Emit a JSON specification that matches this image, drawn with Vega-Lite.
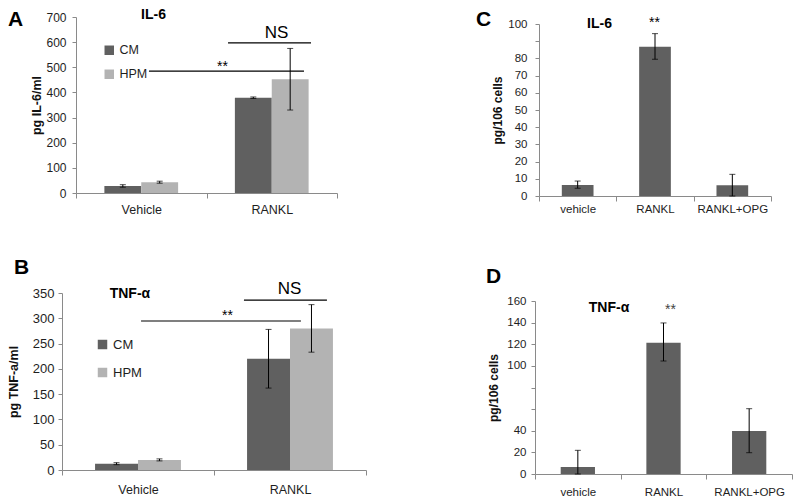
{
  "$schema": "https://vega.github.io/schema/vega-lite/v6.json",
  "background": "white",
  "padding": {"left": 7, "top": 8, "right": 0, "bottom": 0},
  "config": {
    "font": "Liberation Sans",
    "view": {"stroke": null},
    "axis": {"grid": false, "domainColor": "#8a8a8a", "tickColor": "#8a8a8a", "labelColor": "#1e1e1e", "labelFont": "Liberation Sans", "titleFont": "Liberation Sans", "titleFontWeight": "bold", "titleColor": "#111111", "titleFontSize": 12.5, "labelFontSize": 12, "labelOverlap": false},
    "legend": {"labelFont": "Liberation Sans", "labelColor": "#1e1e1e"},
    "text": {"font": "Liberation Sans", "color": "#111111"}
  },
  "datasets": {
    "il6_conditioned": [
      {"treatment": "Vehicle", "medium": "CM", "mean": 28, "low": 23, "high": 33},
      {"treatment": "Vehicle", "medium": "HPM", "mean": 43, "low": 39, "high": 47},
      {"treatment": "RANKL", "medium": "CM", "mean": 379, "low": 376, "high": 382},
      {"treatment": "RANKL", "medium": "HPM", "mean": 452, "low": 330, "high": 575}
    ],
    "tnf_conditioned": [
      {"treatment": "Vehicle", "medium": "CM", "mean": 12.5, "low": 10.5, "high": 14.5},
      {"treatment": "Vehicle", "medium": "HPM", "mean": 20, "low": 18, "high": 22},
      {"treatment": "RANKL", "medium": "CM", "mean": 220, "low": 162, "high": 278},
      {"treatment": "RANKL", "medium": "HPM", "mean": 280, "low": 233, "high": 327}
    ],
    "il6_cells": [
      {"treatment": "vehicle", "mean": 6.4, "low": 4.5, "high": 8.7},
      {"treatment": "RANKL", "mean": 86.8, "low": 79.5, "high": 94.4},
      {"treatment": "RANKL+OPG", "mean": 6.2, "low": 0, "high": 12.6}
    ],
    "tnf_cells": [
      {"treatment": "vehicle", "mean": 6.5, "low": 0, "high": 21.9},
      {"treatment": "RANKL", "mean": 121.5, "low": 104.5, "high": 139.7},
      {"treatment": "RANKL+OPG", "mean": 39.8, "low": 19.7, "high": 60.4}
    ]
  },
  "columns": 2,
  "bounds": "flush",
  "align": "each",
  "spacing": {"row": 97, "column": 169},
  "resolve": {
    "scale": {"x": "independent", "y": "independent", "xOffset": "independent", "color": "independent"},
    "axis": {"x": "independent", "y": "independent"},
    "legend": {"color": "independent"}
  },
  "concat": [
    {
      "width": 275, "height": 176,
      "resolve": {"scale": {"x": "independent", "xOffset": "independent"}},
      "layer": [
        {
          "data": {"name": "il6_conditioned"},
          "encoding": {
            "x": {"field": "treatment", "type": "nominal", "sort": ["Vehicle", "RANKL"],
                  "scale": {"domain": ["Vehicle", "RANKL"], "range": [14, 275], "paddingInner": 0, "paddingOuter": 0},
                  "axis": {"title": null, "labelAngle": 0, "tickBand": "extent", "tickSize": 5, "labelPadding": 5, "labelFontSize": 12.5}},
            "xOffset": {"field": "medium", "type": "nominal", "scale": {"domain": ["CM", "HPM"], "paddingInner": 0, "paddingOuter": 0.77}}
          },
          "layer": [
            {
              "mark": {"type": "bar"},
              "encoding": {
                "y": {"field": "mean", "type": "quantitative", "scale": {"domain": [0, 700], "nice": false},
                      "axis": {"title": "pg IL-6/ml", "values": [0, 100, 200, 300, 400, 500, 600, 700], "offset": -14, "tickSize": 4, "labelPadding": 6, "titleX": -39.5, "titleBaseline": "middle"}},
                "color": {"field": "medium", "type": "nominal", "scale": {"domain": ["CM", "HPM"], "range": ["#606060", "#b3b3b3"]},
                          "legend": {"orient": "none", "legendX": 41, "legendY": 27, "title": null, "symbolType": "square", "symbolSize": 90, "symbolStrokeWidth": 0, "symbolOpacity": 1, "labelFontSize": 12.5, "labelOffset": 4, "rowPadding": 11, "padding": 0}}
              }
            },
            {
              "mark": {"type": "rule", "color": "#000000", "strokeWidth": 1},
              "encoding": {
                "y": {"field": "low", "type": "quantitative", "scale": {"domain": [0, 700], "nice": false},
                      "axis": {"title": "pg IL-6/ml", "values": [0, 100, 200, 300, 400, 500, 600, 700], "offset": -14, "tickSize": 4, "labelPadding": 6, "titleX": -39.5, "titleBaseline": "middle"}},
                "y2": {"field": "high"}
              }
            },
            {
              "mark": {"type": "tick", "color": "#000000", "size": 6, "thickness": 1},
              "encoding": {"y": {"field": "high", "type": "quantitative", "scale": {"domain": [0, 700], "nice": false},
                      "axis": {"title": "pg IL-6/ml", "values": [0, 100, 200, 300, 400, 500, 600, 700], "offset": -14, "tickSize": 4, "labelPadding": 6, "titleX": -39.5, "titleBaseline": "middle"}}}
            },
            {
              "mark": {"type": "tick", "color": "#000000", "size": 6, "thickness": 1},
              "encoding": {"y": {"field": "low", "type": "quantitative", "scale": {"domain": [0, 700], "nice": false},
                      "axis": {"title": "pg IL-6/ml", "values": [0, 100, 200, 300, 400, 500, 600, 700], "offset": -14, "tickSize": 4, "labelPadding": 6, "titleX": -39.5, "titleBaseline": "middle"}}}
            }
          ]
        },
        {
          "data": {"values": [{"from": 1.165, "to": 1.801, "level": 597}, {"from": 0.559, "to": 1.747, "level": 485}]},
          "mark": {"type": "rule", "color": "#000000", "strokeWidth": 1.2},
          "encoding": {
            "x": {"field": "from", "type": "quantitative", "scale": {"domain": [0, 2], "range": [14, 275], "nice": false, "zero": false}, "axis": null},
            "x2": {"field": "to"},
            "y": {"field": "level", "type": "quantitative", "scale": {"domain": [0, 700], "nice": false},
                  "axis": {"title": "pg IL-6/ml", "values": [0, 100, 200, 300, 400, 500, 600, 700], "offset": -14, "tickSize": 4, "labelPadding": 6, "titleX": -39.5, "titleBaseline": "middle"}}
          }
        },
        {
          "data": {"values": [{"label": "A", "pos": -0.521, "level": 664}]},
          "mark": {"type": "text", "align": "left", "baseline": "alphabetic", "fontSize": 21, "fontWeight": "bold", "color": "#000000"},
          "encoding": {
            "x": {"field": "pos", "type": "quantitative", "scale": {"domain": [0, 2], "range": [14, 275], "nice": false, "zero": false}, "axis": null},
            "y": {"field": "level", "type": "quantitative", "scale": {"domain": [0, 700], "nice": false},
                  "axis": {"title": "pg IL-6/ml", "values": [0, 100, 200, 300, 400, 500, 600, 700], "offset": -14, "tickSize": 4, "labelPadding": 6, "titleX": -39.5, "titleBaseline": "middle"}},
            "text": {"field": "label"}
          }
        },
        {
          "data": {"values": [{"label": "IL-6", "pos": 0.594, "level": 692}]},
          "mark": {"type": "text", "align": "center", "baseline": "alphabetic", "fontSize": 14, "fontWeight": "bold", "color": "#000000"},
          "encoding": {
            "x": {"field": "pos", "type": "quantitative", "scale": {"domain": [0, 2], "range": [14, 275], "nice": false, "zero": false}, "axis": null},
            "y": {"field": "level", "type": "quantitative", "scale": {"domain": [0, 700], "nice": false},
                  "axis": {"title": "pg IL-6/ml", "values": [0, 100, 200, 300, 400, 500, 600, 700], "offset": -14, "tickSize": 4, "labelPadding": 6, "titleX": -39.5, "titleBaseline": "middle"}},
            "text": {"field": "label"}
          }
        },
        {
          "data": {"values": [{"label": "NS", "pos": 1.536, "level": 616}]},
          "mark": {"type": "text", "align": "center", "baseline": "alphabetic", "fontSize": 17, "color": "#000000"},
          "encoding": {
            "x": {"field": "pos", "type": "quantitative", "scale": {"domain": [0, 2], "range": [14, 275], "nice": false, "zero": false}, "axis": null},
            "y": {"field": "level", "type": "quantitative", "scale": {"domain": [0, 700], "nice": false},
                  "axis": {"title": "pg IL-6/ml", "values": [0, 100, 200, 300, 400, 500, 600, 700], "offset": -14, "tickSize": 4, "labelPadding": 6, "titleX": -39.5, "titleBaseline": "middle"}},
            "text": {"field": "label"}
          }
        },
        {
          "data": {"values": [{"label": "**", "pos": 1.123, "level": 487}]},
          "mark": {"type": "text", "align": "center", "baseline": "alphabetic", "fontSize": 14, "color": "#000000"},
          "encoding": {
            "x": {"field": "pos", "type": "quantitative", "scale": {"domain": [0, 2], "range": [14, 275], "nice": false, "zero": false}, "axis": null},
            "y": {"field": "level", "type": "quantitative", "scale": {"domain": [0, 700], "nice": false},
                  "axis": {"title": "pg IL-6/ml", "values": [0, 100, 200, 300, 400, 500, 600, 700], "offset": -14, "tickSize": 4, "labelPadding": 6, "titleX": -39.5, "titleBaseline": "middle"}},
            "text": {"field": "label"}
          }
        }
      ]
    },
    {
      "width": 236, "height": 179,
      "resolve": {"scale": {"x": "independent"}},
      "layer": [
        {
          "data": {"name": "il6_cells"},
          "encoding": {
            "x": {"field": "treatment", "type": "nominal", "sort": ["vehicle", "RANKL", "RANKL+OPG"],
                  "scale": {"domain": ["vehicle", "RANKL", "RANKL+OPG"], "range": [4, 236], "paddingInner": 0, "paddingOuter": 0},
                  "axis": {"title": null, "labelAngle": 0, "tickBand": "extent", "tickSize": 5, "labelPadding": 2, "labelFontSize": 11.5}}
          },
          "layer": [
            {
              "mark": {"type": "bar", "color": "#606060", "width": {"band": 0.41}},
              "encoding": {
                "y": {"field": "mean", "type": "quantitative", "scale": {"domain": [0, 100], "range": [179, 7], "nice": false},
                      "axis": {"title": "pg/106 cells", "values": [0, 10, 20, 30, 40, 50, 60, 70, 80, 90, 100], "labelExpr": "datum.value == 90 ? '' : datum.label", "offset": -4, "tickSize": 4, "labelPadding": 8, "labelFontSize": 11.5, "titleFontSize": 12, "titleX": -42, "titleBaseline": "middle"}}
              }
            },
            {
              "mark": {"type": "rule", "color": "#000000", "strokeWidth": 1},
              "encoding": {
                "y": {"field": "low", "type": "quantitative", "scale": {"domain": [0, 100], "range": [179, 7], "nice": false},
                      "axis": {"title": "pg/106 cells", "values": [0, 10, 20, 30, 40, 50, 60, 70, 80, 90, 100], "labelExpr": "datum.value == 90 ? '' : datum.label", "offset": -4, "tickSize": 4, "labelPadding": 8, "labelFontSize": 11.5, "titleFontSize": 12, "titleX": -42, "titleBaseline": "middle"}},
                "y2": {"field": "high"}
              }
            },
            {
              "mark": {"type": "tick", "color": "#000000", "size": 6, "thickness": 1},
              "encoding": {"y": {"field": "high", "type": "quantitative", "scale": {"domain": [0, 100], "range": [179, 7], "nice": false},
                      "axis": {"title": "pg/106 cells", "values": [0, 10, 20, 30, 40, 50, 60, 70, 80, 90, 100], "labelExpr": "datum.value == 90 ? '' : datum.label", "offset": -4, "tickSize": 4, "labelPadding": 8, "labelFontSize": 11.5, "titleFontSize": 12, "titleX": -42, "titleBaseline": "middle"}}}
            },
            {
              "mark": {"type": "tick", "color": "#000000", "size": 6, "thickness": 1},
              "encoding": {"y": {"field": "low", "type": "quantitative", "scale": {"domain": [0, 100], "range": [179, 7], "nice": false},
                      "axis": {"title": "pg/106 cells", "values": [0, 10, 20, 30, 40, 50, 60, 70, 80, 90, 100], "labelExpr": "datum.value == 90 ? '' : datum.label", "offset": -4, "tickSize": 4, "labelPadding": 8, "labelFontSize": 11.5, "titleFontSize": 12, "titleX": -42, "titleBaseline": "middle"}}}
            }
          ]
        },
        {
          "data": {"values": [{"label": "C", "pos": -0.815, "level": 98.8}]},
          "mark": {"type": "text", "align": "left", "baseline": "alphabetic", "fontSize": 21, "fontWeight": "bold", "color": "#000000"},
          "encoding": {
            "x": {"field": "pos", "type": "quantitative", "scale": {"domain": [0, 3], "range": [4, 236], "nice": false, "zero": false}, "axis": null},
            "y": {"field": "level", "type": "quantitative", "scale": {"domain": [0, 100], "range": [179, 7], "nice": false},
                  "axis": {"title": "pg/106 cells", "values": [0, 10, 20, 30, 40, 50, 60, 70, 80, 90, 100], "labelExpr": "datum.value == 90 ? '' : datum.label", "offset": -4, "tickSize": 4, "labelPadding": 8, "labelFontSize": 11.5, "titleFontSize": 12, "titleX": -42, "titleBaseline": "middle"}},
            "text": {"field": "label"}
          }
        },
        {
          "data": {"values": [{"label": "IL-6", "pos": 0.782, "level": 97.7}]},
          "mark": {"type": "text", "align": "center", "baseline": "alphabetic", "fontSize": 14, "fontWeight": "bold", "color": "#000000"},
          "encoding": {
            "x": {"field": "pos", "type": "quantitative", "scale": {"domain": [0, 3], "range": [4, 236], "nice": false, "zero": false}, "axis": null},
            "y": {"field": "level", "type": "quantitative", "scale": {"domain": [0, 100], "range": [179, 7], "nice": false},
                  "axis": {"title": "pg/106 cells", "values": [0, 10, 20, 30, 40, 50, 60, 70, 80, 90, 100], "labelExpr": "datum.value == 90 ? '' : datum.label", "offset": -4, "tickSize": 4, "labelPadding": 8, "labelFontSize": 11.5, "titleFontSize": 12, "titleX": -42, "titleBaseline": "middle"}},
            "text": {"field": "label"}
          }
        },
        {
          "data": {"values": [{"label": "**", "pos": 1.494, "level": 98.5}]},
          "mark": {"type": "text", "align": "center", "baseline": "alphabetic", "fontSize": 14, "color": "#000000"},
          "encoding": {
            "x": {"field": "pos", "type": "quantitative", "scale": {"domain": [0, 3], "range": [4, 236], "nice": false, "zero": false}, "axis": null},
            "y": {"field": "level", "type": "quantitative", "scale": {"domain": [0, 100], "range": [179, 7], "nice": false},
                  "axis": {"title": "pg/106 cells", "values": [0, 10, 20, 30, 40, 50, 60, 70, 80, 90, 100], "labelExpr": "datum.value == 90 ? '' : datum.label", "offset": -4, "tickSize": 4, "labelPadding": 8, "labelFontSize": 11.5, "titleFontSize": 12, "titleX": -42, "titleBaseline": "middle"}},
            "text": {"field": "label"}
          }
        }
      ]
    },
    {
      "width": 304, "height": 177,
      "resolve": {"scale": {"x": "independent", "xOffset": "independent"}},
      "layer": [
        {
          "data": {"name": "tnf_conditioned"},
          "encoding": {
            "x": {"field": "treatment", "type": "nominal", "sort": ["Vehicle", "RANKL"],
                  "scale": {"domain": ["Vehicle", "RANKL"], "paddingInner": 0, "paddingOuter": 0},
                  "axis": {"title": null, "labelAngle": 0, "tickBand": "extent", "tickSize": 5, "labelPadding": 8, "labelFontSize": 12.5}},
            "xOffset": {"field": "medium", "type": "nominal", "scale": {"domain": ["CM", "HPM"], "paddingInner": 0, "paddingOuter": 0.77}}
          },
          "layer": [
            {
              "mark": {"type": "bar"},
              "encoding": {
                "y": {"field": "mean", "type": "quantitative", "scale": {"domain": [0, 350], "nice": false},
                      "axis": {"title": "pg TNF-a/ml", "values": [0, 50, 100, 150, 200, 250, 300, 350], "tickSize": 4, "labelPadding": 4, "labelFontSize": 13, "titleX": -49, "titleBaseline": "middle"}},
                "color": {"field": "medium", "type": "nominal", "scale": {"domain": ["CM", "HPM"], "range": ["#606060", "#b3b3b3"]},
                          "legend": {"orient": "none", "legendX": 34, "legendY": 45, "title": null, "symbolType": "square", "symbolSize": 90, "symbolStrokeWidth": 0, "symbolOpacity": 1, "labelFontSize": 13, "labelOffset": 4, "rowPadding": 14, "padding": 0}}
              }
            },
            {
              "mark": {"type": "rule", "color": "#000000", "strokeWidth": 1},
              "encoding": {
                "y": {"field": "low", "type": "quantitative", "scale": {"domain": [0, 350], "nice": false},
                      "axis": {"title": "pg TNF-a/ml", "values": [0, 50, 100, 150, 200, 250, 300, 350], "tickSize": 4, "labelPadding": 4, "labelFontSize": 13, "titleX": -49, "titleBaseline": "middle"}},
                "y2": {"field": "high"}
              }
            },
            {
              "mark": {"type": "tick", "color": "#000000", "size": 6, "thickness": 1},
              "encoding": {"y": {"field": "high", "type": "quantitative", "scale": {"domain": [0, 350], "nice": false},
                      "axis": {"title": "pg TNF-a/ml", "values": [0, 50, 100, 150, 200, 250, 300, 350], "tickSize": 4, "labelPadding": 4, "labelFontSize": 13, "titleX": -49, "titleBaseline": "middle"}}}
            },
            {
              "mark": {"type": "tick", "color": "#000000", "size": 6, "thickness": 1},
              "encoding": {"y": {"field": "low", "type": "quantitative", "scale": {"domain": [0, 350], "nice": false},
                      "axis": {"title": "pg TNF-a/ml", "values": [0, 50, 100, 150, 200, 250, 300, 350], "tickSize": 4, "labelPadding": 4, "labelFontSize": 13, "titleX": -49, "titleBaseline": "middle"}}}
            }
          ]
        },
        {
          "data": {"values": [{"from": 1.197, "to": 1.743, "level": 336}, {"from": 0.52, "to": 1.572, "level": 294.6}]},
          "mark": {"type": "rule", "color": "#000000", "strokeWidth": 1.2},
          "encoding": {
            "x": {"field": "from", "type": "quantitative", "scale": {"domain": [0, 2], "nice": false, "zero": false}, "axis": null},
            "x2": {"field": "to"},
            "y": {"field": "level", "type": "quantitative", "scale": {"domain": [0, 350], "nice": false},
                  "axis": {"title": "pg TNF-a/ml", "values": [0, 50, 100, 150, 200, 250, 300, 350], "tickSize": 4, "labelPadding": 4, "labelFontSize": 13, "titleX": -49, "titleBaseline": "middle"}}
          }
        },
        {
          "data": {"values": [{"label": "B", "pos": -0.316, "level": 387.6}]},
          "mark": {"type": "text", "align": "left", "baseline": "alphabetic", "fontSize": 21, "fontWeight": "bold", "color": "#000000"},
          "encoding": {
            "x": {"field": "pos", "type": "quantitative", "scale": {"domain": [0, 2], "nice": false, "zero": false}, "axis": null},
            "y": {"field": "level", "type": "quantitative", "scale": {"domain": [0, 350], "nice": false},
                  "axis": {"title": "pg TNF-a/ml", "values": [0, 50, 100, 150, 200, 250, 300, 350], "tickSize": 4, "labelPadding": 4, "labelFontSize": 13, "titleX": -49, "titleBaseline": "middle"}},
            "text": {"field": "label"}
          }
        },
        {
          "data": {"values": [{"label": "TNF-α", "pos": 0.447, "level": 340}]},
          "mark": {"type": "text", "align": "center", "baseline": "alphabetic", "fontSize": 14, "fontWeight": "bold", "color": "#000000"},
          "encoding": {
            "x": {"field": "pos", "type": "quantitative", "scale": {"domain": [0, 2], "nice": false, "zero": false}, "axis": null},
            "y": {"field": "level", "type": "quantitative", "scale": {"domain": [0, 350], "nice": false},
                  "axis": {"title": "pg TNF-a/ml", "values": [0, 50, 100, 150, 200, 250, 300, 350], "tickSize": 4, "labelPadding": 4, "labelFontSize": 13, "titleX": -49, "titleBaseline": "middle"}},
            "text": {"field": "label"}
          }
        },
        {
          "data": {"values": [{"label": "NS", "pos": 1.497, "level": 348}]},
          "mark": {"type": "text", "align": "center", "baseline": "alphabetic", "fontSize": 17, "color": "#000000"},
          "encoding": {
            "x": {"field": "pos", "type": "quantitative", "scale": {"domain": [0, 2], "nice": false, "zero": false}, "axis": null},
            "y": {"field": "level", "type": "quantitative", "scale": {"domain": [0, 350], "nice": false},
                  "axis": {"title": "pg TNF-a/ml", "values": [0, 50, 100, 150, 200, 250, 300, 350], "tickSize": 4, "labelPadding": 4, "labelFontSize": 13, "titleX": -49, "titleBaseline": "middle"}},
            "text": {"field": "label"}
          }
        },
        {
          "data": {"values": [{"label": "**", "pos": 1.089, "level": 296}]},
          "mark": {"type": "text", "align": "center", "baseline": "alphabetic", "fontSize": 14, "color": "#000000"},
          "encoding": {
            "x": {"field": "pos", "type": "quantitative", "scale": {"domain": [0, 2], "nice": false, "zero": false}, "axis": null},
            "y": {"field": "level", "type": "quantitative", "scale": {"domain": [0, 350], "nice": false},
                  "axis": {"title": "pg TNF-a/ml", "values": [0, 50, 100, 150, 200, 250, 300, 350], "tickSize": 4, "labelPadding": 4, "labelFontSize": 13, "titleX": -49, "titleBaseline": "middle"}},
            "text": {"field": "label"}
          }
        }
      ]
    },
    {
      "width": 257, "height": 181,
      "resolve": {"scale": {"x": "independent"}},
      "layer": [
        {
          "data": {"name": "tnf_cells"},
          "encoding": {
            "x": {"field": "treatment", "type": "nominal", "sort": ["vehicle", "RANKL", "RANKL+OPG"],
                  "scale": {"domain": ["vehicle", "RANKL", "RANKL+OPG"], "paddingInner": 0, "paddingOuter": 0},
                  "axis": {"title": null, "labelAngle": 0, "tickBand": "extent", "tickSize": 5, "labelPadding": 7, "labelFontSize": 11.5}}
          },
          "layer": [
            {
              "mark": {"type": "bar", "color": "#606060", "width": {"band": 0.4}},
              "encoding": {
                "y": {"field": "mean", "type": "quantitative", "scale": {"domain": [0, 160], "range": [181, 8], "nice": false},
                      "axis": {"title": "pg/106 cells", "values": [0, 20, 40, 60, 80, 100, 120, 140, 160], "labelExpr": "datum.value == 60 || datum.value == 80 ? '' : datum.label", "tickSize": 4, "labelPadding": 5, "labelFontSize": 11.5, "titleFontSize": 12, "titleX": -42, "titleBaseline": "middle"}}
              }
            },
            {
              "mark": {"type": "rule", "color": "#000000", "strokeWidth": 1},
              "encoding": {
                "y": {"field": "low", "type": "quantitative", "scale": {"domain": [0, 160], "range": [181, 8], "nice": false},
                      "axis": {"title": "pg/106 cells", "values": [0, 20, 40, 60, 80, 100, 120, 140, 160], "labelExpr": "datum.value == 60 || datum.value == 80 ? '' : datum.label", "tickSize": 4, "labelPadding": 5, "labelFontSize": 11.5, "titleFontSize": 12, "titleX": -42, "titleBaseline": "middle"}},
                "y2": {"field": "high"}
              }
            },
            {
              "mark": {"type": "tick", "color": "#000000", "size": 6, "thickness": 1},
              "encoding": {"y": {"field": "high", "type": "quantitative", "scale": {"domain": [0, 160], "range": [181, 8], "nice": false},
                      "axis": {"title": "pg/106 cells", "values": [0, 20, 40, 60, 80, 100, 120, 140, 160], "labelExpr": "datum.value == 60 || datum.value == 80 ? '' : datum.label", "tickSize": 4, "labelPadding": 5, "labelFontSize": 11.5, "titleFontSize": 12, "titleX": -42, "titleBaseline": "middle"}}}
            },
            {
              "mark": {"type": "tick", "color": "#000000", "size": 6, "thickness": 1},
              "encoding": {"y": {"field": "low", "type": "quantitative", "scale": {"domain": [0, 160], "range": [181, 8], "nice": false},
                      "axis": {"title": "pg/106 cells", "values": [0, 20, 40, 60, 80, 100, 120, 140, 160], "labelExpr": "datum.value == 60 || datum.value == 80 ? '' : datum.label", "tickSize": 4, "labelPadding": 5, "labelFontSize": 11.5, "titleFontSize": 12, "titleX": -42, "titleBaseline": "middle"}}}
            }
          ]
        },
        {
          "data": {"values": [{"label": "D", "pos": -0.572, "level": 176.6}]},
          "mark": {"type": "text", "align": "left", "baseline": "alphabetic", "fontSize": 21, "fontWeight": "bold", "color": "#000000"},
          "encoding": {
            "x": {"field": "pos", "type": "quantitative", "scale": {"domain": [0, 3], "nice": false, "zero": false}, "axis": null},
            "y": {"field": "level", "type": "quantitative", "scale": {"domain": [0, 160], "range": [181, 8], "nice": false},
                  "axis": {"title": "pg/106 cells", "values": [0, 20, 40, 60, 80, 100, 120, 140, 160], "labelExpr": "datum.value == 60 || datum.value == 80 ? '' : datum.label", "tickSize": 4, "labelPadding": 5, "labelFontSize": 11.5, "titleFontSize": 12, "titleX": -42, "titleBaseline": "middle"}},
            "text": {"field": "label"}
          }
        },
        {
          "data": {"values": [{"label": "TNF-α", "pos": 0.864, "level": 149.8}]},
          "mark": {"type": "text", "align": "center", "baseline": "alphabetic", "fontSize": 14, "fontWeight": "bold", "color": "#000000"},
          "encoding": {
            "x": {"field": "pos", "type": "quantitative", "scale": {"domain": [0, 3], "nice": false, "zero": false}, "axis": null},
            "y": {"field": "level", "type": "quantitative", "scale": {"domain": [0, 160], "range": [181, 8], "nice": false},
                  "axis": {"title": "pg/106 cells", "values": [0, 20, 40, 60, 80, 100, 120, 140, 160], "labelExpr": "datum.value == 60 || datum.value == 80 ? '' : datum.label", "tickSize": 4, "labelPadding": 5, "labelFontSize": 11.5, "titleFontSize": 12, "titleX": -42, "titleBaseline": "middle"}},
            "text": {"field": "label"}
          }
        },
        {
          "data": {"values": [{"label": "**", "pos": 1.582, "level": 148}]},
          "mark": {"type": "text", "align": "center", "baseline": "alphabetic", "fontSize": 14, "color": "#444444"},
          "encoding": {
            "x": {"field": "pos", "type": "quantitative", "scale": {"domain": [0, 3], "nice": false, "zero": false}, "axis": null},
            "y": {"field": "level", "type": "quantitative", "scale": {"domain": [0, 160], "range": [181, 8], "nice": false},
                  "axis": {"title": "pg/106 cells", "values": [0, 20, 40, 60, 80, 100, 120, 140, 160], "labelExpr": "datum.value == 60 || datum.value == 80 ? '' : datum.label", "tickSize": 4, "labelPadding": 5, "labelFontSize": 11.5, "titleFontSize": 12, "titleX": -42, "titleBaseline": "middle"}},
            "text": {"field": "label"}
          }
        }
      ]
    }
  ]
}
